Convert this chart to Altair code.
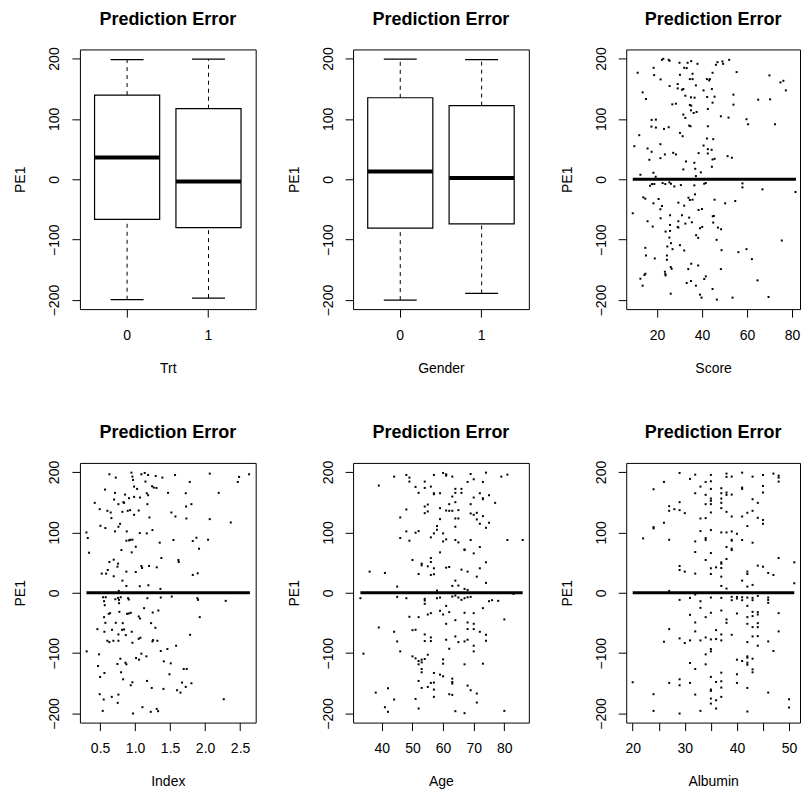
import altair as alt
import pandas as pd

FONT = "Liberation Sans"
TITLE = "Prediction Error"

# ---- boxplot summaries (lower whisker, Q1, median, Q3, upper whisker) ----
box_groups = ["0", "1"]
trt_stats = {"lo": [-199.4, -196.7], "q1": [-66.3, -80.0], "med": [36.0, -3.5],
             "q3": [139.5, 116.9], "hi": [198.3, 198.9]}
gender_stats = {"lo": [-200.0, -189.0], "q1": [-81.0, -74.0], "med": [13.0, 2.0],
                "q3": [135.0, 122.0], "hi": [199.0, 198.0]}

# ---- scatter data (x value, PE1) ----
score_pts = [
(22.2,197.8),(22.8,199.5),(25.2,197.8),(25.6,196.2),(30.0,192.9),(33.6,192.9),(35.2,195.6),(38.0,191.2),(46.9,194.0),(46.2,189.6),(49.1,195.1),(49.4,191.2),(52.1,197.8),
(18.5,184.6),(11.4,176.4),(32.1,184.6),(33.2,184.1),(30.2,173.0),(35.8,174.7),(44.7,176.4),(55.4,177.5),(70.0,172.0),(18.7,172.5),
(21.6,165.4),(34.6,165.9),(35.8,165.9),(42.2,165.9),(43.2,163.7),(43.5,165.9),(74.9,160.4),(76.2,163.1),(29.2,157.7),(25.6,154.4),(37.3,155.5),
(29.2,150.5),(31.1,148.3),(31.7,149.4),(40.7,147.2),(44.4,149.4),(77.3,147.2),(13.6,143.9),(32.6,138.4),(35.1,135.7),(36.7,135.1),(42.3,136.2),(45.6,136.8),(54.0,140.1),(15.1,132.9),(65.0,131.8),(70.3,132.4),
(26.8,124.1),(28.4,125.2),(34.6,123.0),(35.2,121.9),(44.7,126.9),(54.0,123.6),(42.6,116.4),(35.1,114.2),(36.3,109.8),(37.6,111.5),
(48.4,104.3),(51.8,102.1),(59.8,99.4),(32.6,101.6),(31.7,107.1),(17.6,98.3),(19.5,98.8),(60.5,91.1),(72.5,91.1),(17.5,87.3),(19.5,85.6),(23.1,83.4),(25.2,86.2),(34.3,88.9),(34.9,87.8),(42.6,87.8),
(30.2,76.8),(31.4,71.3),(12.1,73.0),(42.2,67.5),(45.0,66.4),(21.5,58.1),(9.9,54.8),(40.7,55.9),(44.3,48.8),(42.6,49.9),(15.8,51.0),(17.6,45.5),
(27.2,43.8),(28.4,41.1),(23.5,41.1),(38.5,43.3),(42.6,42.7),(21.5,35.0),(16.6,32.3),(44.7,32.8),(45.6,33.9),(51.4,38.3),(53.3,35.6),(32.9,29.5),(36.6,27.3),(44.4,20.7),
(31.7,16.3),(37.0,17.4),(39.5,11.4),(18.4,10.8),(12.6,7.5),(19.4,4.2),(37.3,5.3),
(16.9,-10.7),(17.8,-7.9),(18.8,-7.9),(22.5,-6.3),(23.7,-7.9),(25.5,-5.2),(26.2,-7.4),(27.7,-11.8),(30.6,-9.6),(36.6,-10.1),(41.0,-7.4),(41.7,-6.3),(58.0,-6.8),(58.0,-13.4),(66.9,-16.7),(81.6,-21.1),
(36.9,-25.0),(13.9,-29.9),(14.8,-32.1),(20.7,-32.7),(34.0,-30.5),(34.6,-34.3),(35.8,-33.8),(18.4,-39.8),(29.5,-38.7),(32.1,-43.7),(45.6,-33.8),(50.3,-39.8),(54.8,-36.0),(9.2,-56.3),(21.5,-49.7),(22.2,-44.2),(38.5,-50.8),(40.0,-49.2),
(25.8,-59.6),(31.1,-59.6),(34.3,-63.5),(21.6,-64.6),(15.8,-69.5),(29.5,-69.5),(32.6,-73.4),(35.5,-71.2),(44.8,-61.3),(45.3,-60.7),(45.0,-71.7),(25.8,-75.6),(29.2,-78.9),(29.5,-80.0),(18.1,-78.3),(39.1,-81.1),(40.1,-78.9),(47.1,-80.0),(48.5,-82.7),
(23.8,-86.6),(25.8,-85.5),(37.4,-92.6),(38.3,-97.0),(25.5,-96.5),(26.2,-105.8),(24.6,-111.3),(26.9,-115.7),(30.2,-109.1),(32.1,-117.9),(46.5,-100.3),(48.7,-117.4),(75.5,-101.4),(14.8,-113.5),(59.8,-115.7),(56.2,-120.7),
(15.1,-126.2),(19.0,-131.1),(24.4,-126.2),(24.4,-133.3),(35.2,-139.9),(38.3,-142.7),(33.9,-148.7),(26.1,-145.4),(26.5,-148.2),(23.5,-153.1),(23.7,-157.0),(23.8,-159.2),(14.8,-156.4),(14.4,-158.6),(12.6,-164.6),(48.4,-148.7),(62.2,-132.2),(64.7,-167.4),(41.7,-160.8),(41.0,-165.2),
(33.2,-171.8),(35.1,-168.5),(13.6,-176.2),(37.3,-176.2),(44.7,-181.7),(26.1,-189.4),(39.1,-191.1),(39.8,-196.0),(46.6,-199.3),(53.6,-196.0),(69.6,-194.9),
]

index_pts = [
(0.633,196.2),(0.724,190.7),(0.948,198.9),(0.962,192.3),(1.090,196.2),(1.138,198.4),(1.186,195.1),(1.295,193.4),(1.390,190.7),(1.571,195.1),(2.067,197.3),(2.486,191.8),(2.467,183.5),(2.629,196.2),(1.781,183.5),(1.148,184.1),(0.971,186.8),
(0.571,170.9),(0.986,175.8),(1.029,172.0),(1.243,176.4),(1.267,174.2),(1.305,173.6),(0.714,165.4),(0.857,162.6),(0.986,158.8),(1.167,164.8),(1.186,161.5),(1.471,165.4),(1.724,164.8),(2.195,165.4),(0.914,156.6),(0.700,154.4),(0.833,150.0),(0.843,148.9),(0.762,146.7),(0.424,148.9),(1.071,157.7),
(1.176,146.7),(1.729,142.8),(1.805,146.7),(0.495,138.4),(0.605,135.7),(0.652,132.9),(0.819,134.0),(0.895,135.7),(0.929,136.8),(1.052,136.2),(0.986,129.1),(0.662,123.6),(1.205,124.7),(1.519,132.9),(1.576,126.3),(1.733,123.0),(2.067,121.9),(2.367,116.4),
(0.505,110.9),(0.576,107.1),(0.786,114.2),(0.762,109.3),(0.714,101.6),(0.881,101.6),(1.067,98.8),(1.167,98.3),(1.248,103.8),(0.305,99.9),(0.324,90.6),(1.352,82.9),(0.876,86.2),(0.914,86.7),(0.933,87.8),(0.962,87.8),(1.548,87.3),(1.824,85.6),(1.876,91.1),(2.043,87.8),
(1.010,76.2),(0.952,66.9),(0.805,70.7),(0.343,66.3),(1.914,72.9),(1.376,57.5),(1.619,54.2),(1.624,50.9),(0.633,50.9),(0.695,54.8),
(0.757,48.2),(0.748,43.2),(1.090,44.3),(1.100,41.0),(1.200,44.3),(1.310,42.1),(0.610,37.7),(0.586,31.7),(0.524,31.7),(0.695,27.3),(0.876,35.0),(1.010,34.4),(1.824,29.5),(1.895,32.2),(0.819,20.1),(1.190,12.4),(1.067,10.8),(0.876,11.3),(1.362,6.4),(0.767,3.1),
(0.543,-7.4),(0.581,-7.4),(0.557,-14.0),(0.567,-20.6),(0.719,-10.7),(0.757,-8.5),(0.795,-7.4),(0.771,-11.8),(0.900,-9.0),(0.910,-11.2),(0.771,-17.3),(1.176,-9.0),(1.367,-7.9),(1.524,-6.3),(1.890,-9.0),(1.900,-11.8),(2.295,-13.4),
(0.624,-34.9),(0.643,-33.8),(0.776,-31.6),(0.886,-34.9),(0.910,-34.3),(0.938,-33.2),(1.129,-25.5),(1.333,-29.4),(1.252,-32.7),(0.557,-40.4),(1.052,-39.3),(1.071,-42.6),(1.924,-40.4),
(0.576,-49.8),(0.724,-49.8),(0.824,-50.3),(0.462,-60.2),(0.562,-64.6),(0.671,-61.3),(0.762,-69.0),(0.814,-61.3),(0.843,-60.8),(0.867,-70.1),(0.952,-64.6),(1.290,-58.0),(1.229,-50.3),(0.605,-79.5),(0.633,-81.7),(0.690,-79.5),(0.762,-79.5),(0.962,-82.8),(1.052,-76.2),(1.076,-74.5),(1.248,-80.6),(1.257,-78.4),(1.319,-79.5),(1.786,-69.6),(1.586,-87.7),
(0.309,-97.1),(0.486,-102.0),(1.367,-96.5),(1.462,-93.2),(1.090,-100.9),(1.162,-105.3),(1.014,-108.1),(1.057,-110.8),(0.790,-109.2),(0.748,-118.0),(0.862,-115.8),(0.876,-118.5),(0.471,-121.3),(1.410,-113.6),(1.510,-116.9),(1.491,-135.0),
(0.562,-132.8),(0.800,-131.7),(0.500,-139.4),(0.829,-143.3),(0.962,-148.2),(0.938,-153.2),(1.171,-146.0),(1.238,-157.6),(1.405,-159.2),(1.671,-148.8),(1.695,-126.2),(1.738,-126.2),(1.805,-149.9),(1.724,-155.9),(1.600,-161.4),(1.648,-165.3),
(0.495,-168.0),(0.552,-176.8),(0.667,-172.4),(0.762,-168.6),(0.752,-182.3),(2.267,-176.3),(0.538,-195.6),(0.971,-200.0),(1.105,-189.5),(1.224,-197.2),(1.310,-192.3),(1.329,-196.1),
]

age_pts = [
(44,192.3),(48,195.1),(49,190.7),(49,184.1),(54,184.1),(57,195.1),(60,198.4),(61,196.2),(61,194.0),(63,192.3),(69,196.7),(70,187.9),(68,183.5),(73,183.5),(74,198.9),(79,192.3),(81,195.6),
(39,177.5),(51,175.3),(54,173.6),(56,175.8),(52,165.4),(57,164.8),(57,163.2),(59,164.8),(64,172.0),(64,165.4),(66,172.0),(66,165.4),(72,164.8),(63,159.3),(62,146.7),(64,150.0),(70,157.7),(73,156.6),(73,154.9),(75,161.5),(77,148.9),(69,146.7),(54,142.8),(55,146.1),
(48,137.9),(54,131.8),(55,134.6),(59,140.1),(61,136.2),(62,135.7),(63,135.7),(65,136.8),(69,131.3),(70,129.1),(71,132.4),(73,126.9),(46,124.7),(59,121.9),(64,123.0),(65,123.0),(71,121.4),(72,114.2),(75,115.9),(74,107.6),(64,109.3),(58,110.4),(58,104.3),
(48,101.6),(51,99.4),(52,102.1),(57,98.3),(60,98.3),(56,91.7),(46,90.6),(49,86.2),(60,85.0),(61,88.4),(64,87.3),(65,83.4),(69,87.3),(81,87.3),(86,87.3),(72,75.7),(67,71.8),(67,70.7),
(59,66.9),(70,65.2),(50,54.2),(56,57.5),(56,50.9),(53,48.2),(53,45.4),(55,43.8),(57,40.5),(61,41.6),(62,42.7),(66,38.3),(68,35.0),(72,40.5),(74,50.4),(36,35.0),(41,32.8),(52,31.1),(56,29.5),(57,30.6),(71,26.7),
(64,20.1),(63,11.3),(65,11.9),(74,16.3),(45,10.2),(67,6.4),(68,4.7),(58,3.6),
(33,-9.0),(45,-6.8),(48,-9.0),(54,-10.1),(54,-12.9),(54,-18.4),(58,-9.0),(59,-7.9),(63,-6.3),(64,-4.6),(65,-7.9),(66,-11.8),(67,-9.0),(68,-7.4),(69,-6.8),(75,-14.0),(76,-12.3),(78,-13.4),(83,-1.9),
(61,-21.7),(59,-29.9),(56,-33.8),(55,-36.0),(60,-36.0),(62,-32.1),(49,-39.8),(52,-40.4),(67,-33.2),(70,-33.8),(73,-25.5),(80,-44.2),(61,-51.4),(64,-45.4),(68,-49.2),(70,-51.4),
(39,-57.5),(44,-64.6),(50,-61.9),(51,-61.3),(54,-69.0),(56,-74.0),(56,-80.0),(54,-80.0),(64,-72.3),(65,-81.7),(67,-80.6),(68,-77.8),(68,-60.2),(70,-60.2),(72,-64.6),(74,-69.6),(74,-79.5),(45,-80.6),(61,-77.8),(62,-92.7),(70,-87.7),
(46,-97.1),(55,-102.6),(50,-105.3),(51,-108.6),(52,-113.0),(53,-110.8),(53,-115.2),(54,-109.7),(52,-118.5),(53,-126.2),(53,-131.7),(60,-110.3),(60,-117.4),(67,-118.5),(73,-117.4),(34,-100.9),(70,-97.1),
(57,-132.8),(59,-135.6),(60,-138.3),(63,-142.2),(63,-147.7),(63,-150.4),(52,-146.0),(56,-149.3),(57,-148.8),(55,-155.9),(53,-157.6),(57,-160.3),(42,-158.1),(38,-165.3),(68,-153.7),(69,-161.4),(71,-166.9),(62,-168.0),(63,-169.1),
(44,-176.8),(51,-175.8),(57,-172.4),(71,-181.8),(41,-189.5),(42,-197.2),(52,-191.7),(64,-196.1),(67,-199.4),(80,-195.6),
]

albumin_pts = [
(29,198.4),(31,188.5),(32,195.6),(34,183.5),(35,195.1),(35,184.6),(38,197.3),(38,191.8),(39,192.3),(41,198.9),(43,192.3),(45,195.1),(47,197.3),(48,194.0),(48,190.7),(48,184.1),(26,183.5),
(24,171.4),(32,164.8),(33,175.8),(34,162.1),(35,172.0),(37,173.1),(37,164.8),(38,165.9),(38,162.1),(39,162.6),(41,174.2),(41,172.0),(43,154.9),(45,176.9),(45,165.9),
(35,156.0),(35,152.2),(37,156.0),(37,148.9),(34,146.7),(35,146.7),(37,140.1),(27,143.4),(27,135.7),(28,138.4),(29,150.0),(29,136.8),(30,131.8),(35,132.9),(38,134.0),(39,126.3),(41,126.3),(42,132.4),(43,135.7),(44,148.9),(44,124.1),(45,120.3),(45,114.2),(33,123.0),(34,123.6),
(26,115.9),(24,108.7),(24,106.5),(42,110.4),(33,102.1),(35,103.8),(37,99.9),(38,99.9),(39,101.6),(40,97.7),(34,90.6),(34,87.3),(32,85.0),(27,87.8),(22,90.0),(39,87.8),(39,86.2),(41,87.3),(43,82.9),
(38,75.7),(39,72.9),(39,70.7),(32,67.4),(35,65.8),(38,55.9),(37,50.4),(37,48.2),(34,54.2),(48,57.5),(51,50.4),
(29,44.3),(29,37.7),(30,35.0),(32,31.7),(35,40.5),(35,31.1),(36,42.1),(37,41.0),(44,44.9),(45,43.2),(46,32.8),(47,29.5),(42,35.0),(42,31.1),(37,26.7),(41,20.1),(43,13.0),(42,10.2),(37,11.3),(38,6.9),(51,15.7),(27,3.1),
(32,-3.0),(29,-11.8),(31,-8.5),(33,-14.0),(35,-7.9),(37,-8.5),(39,-6.8),(39,-12.3),(40,-6.8),(40,-9.6),(41,-7.4),(41,-12.3),(42,-7.9),(43,-8.5),(43,-12.3),(44,-5.2),(46,-7.9),(46,-11.8),(46,-16.7),
(33,-25.0),(37,-29.4),(42,-21.7),(31,-36.5),(32,-49.2),(34,-40.4),(35,-33.2),(38,-44.2),(38,-49.8),(40,-34.3),(42,-40.4),(42,-51.4),(43,-31.6),(43,-38.7),(44,-32.1),(44,-36.0),(48,-33.8),
(27,-60.2),(32,-64.0),(36,-61.9),(37,-69.0),(39,-69.6),(43,-56.9),(44,-50.3),(44,-56.9),(43,-72.3),(44,-71.8),(48,-64.0),(26,-81.1),(29,-75.6),(30,-83.3),(31,-78.9),(33,-78.9),(34,-74.0),(35,-77.3),(36,-76.7),(37,-78.9),(42,-81.7),(44,-87.7),(46,-80.6),
(35,-93.2),(35,-97.1),(34,-102.0),(34,-118.5),(31,-116.3),(32,-126.2),(35,-139.4),(37,-132.3),(40,-110.8),(41,-113.0),(42,-105.3),(42,-107.5),(42,-115.8),(42,-119.1),(43,-109.2),(43,-126.8),(43,-131.7),(47,-96.5),(40,-135.0),
(20,-148.2),(27,-149.3),(29,-143.3),(29,-153.2),(31,-149.3),(35,-160.3),(35,-162.5),(36,-147.7),(37,-146.6),(37,-157.0),(40,-149.3),(42,-157.6),(46,-165.3),(24,-168.0),(32,-168.6),(37,-172.4),
(35,-175.2),(35,-183.5),(36,-178.0),(36,-191.7),(50,-176.3),(50,-190.1),(24,-195.6),(29,-200.0),(33,-195.6),(42,-196.7),
]

# extent of the observations with PE1 == 0 (drawn as the dense line at zero)
score_zero = (9.2, 81.8)
index_zero = (0.305, 2.64)
age_zero = (33, 86)
albumin_zero = (20, 51)

# ---------------------------------------------------------------------------
Y_SCALE = alt.Scale(domain=[-215, 215], nice=False, zero=False)
TITLE_P = alt.TitleParams(text=TITLE, fontSize=18, fontWeight="bold", font=FONT,
                          color="black", anchor="middle", frame="group",
                          offset=4, baseline="alphabetic")
PW, PH = 176, 260
PW3 = 174


def y_axis():
    return alt.Axis(values=[-200, -100, 0, 100, 200], title="PE1",
                    labelAngle=270, labelAlign="center", labelBaseline="middle",
                    labelPadding=17, titleAngle=270, titleX=-59, titleY=PH / 2,
                    titleAlign="center", titleBaseline="middle")


def x_axis(title, values=None, fmt=None, label_expr=None):
    kw = dict(title=title, labelAngle=0, labelBaseline="middle", labelPadding=18,
              titleY=59, titleBaseline="middle")
    if values is not None:
        kw["values"] = values
    if fmt is not None:
        kw["format"] = fmt
    if label_expr is not None:
        kw["labelExpr"] = label_expr
    return alt.Axis(**kw)


def boxplot(stats, xtitle):
    df = pd.DataFrame({"g": box_groups, **stats})
    X = alt.X("g:N", sort=box_groups,
              scale=alt.Scale(paddingInner=0.2, paddingOuter=0.18),
              axis=x_axis(xtitle))

    def Y(f):
        return alt.Y(f, type="quantitative", scale=Y_SCALE, axis=y_axis())

    base = alt.Chart(df)
    wh = base.mark_rule(color="black", strokeWidth=1, strokeDash=[4, 4]).encode(
        x=X, y=Y("q3"), y2="hi")
    wl = base.mark_rule(color="black", strokeWidth=1, strokeDash=[4, 4]).encode(
        x=X, y=Y("lo"), y2="q1")
    box = base.mark_bar(fill="white", stroke="black", strokeWidth=1.2, opacity=1).encode(
        x=X, y=Y("q1"), y2="q3")
    ch = base.mark_tick(color="black", size=33, thickness=1.2, opacity=1).encode(x=X, y=Y("hi"))
    cl = base.mark_tick(color="black", size=33, thickness=1.2, opacity=1).encode(x=X, y=Y("lo"))
    md = base.mark_tick(color="black", size=65, thickness=4, opacity=1).encode(x=X, y=Y("med"))
    return alt.layer(wh, wl, box, ch, cl, md).properties(width=PW, height=PH, title=TITLE_P)


def scatter(pts, zero_span, xtitle, domain, ticks, width, fmt=None, label_expr=None):
    df = pd.DataFrame(pts, columns=["x", "pe"])
    zdf = pd.DataFrame({"x": [zero_span[0]], "x2": [zero_span[1]], "pe": [0.0]})
    xs = alt.Scale(domain=domain, nice=False, zero=False)
    X = alt.X("x:Q", scale=xs, axis=x_axis(xtitle, ticks, fmt, label_expr))
    Y = alt.Y("pe:Q", scale=Y_SCALE, axis=y_axis())
    p = alt.Chart(df).mark_square(size=4, color="black", opacity=1).encode(x=X, y=Y)
    z = alt.Chart(zdf).mark_rule(color="black", strokeWidth=3).encode(x=X, x2="x2", y=Y)
    return alt.layer(z, p).properties(width=width, height=PH, title=TITLE_P)


p1 = boxplot(trt_stats, "Trt")
p2 = boxplot(gender_stats, "Gender")
p3 = scatter(score_pts, score_zero, "Score", [6.3, 83.6], [20, 40, 60, 80], PW3)
p4 = scatter(index_pts, index_zero, "Index", [0.212, 2.723], [0.5, 1.0, 1.5, 2.0, 2.5], PW, fmt=".1f")
p5 = scatter(age_pts, age_zero, "Age", [30.6, 88.0], [40, 50, 60, 70, 80], PW)
p6 = scatter(albumin_pts, albumin_zero, "Albumin", [18.76, 52.1], [20, 25, 30, 35, 40, 45, 50], PW3,
             label_expr="datum.value % 10 == 0 ? datum.label : ''")

chart = alt.concat(p1, p2, p3, p4, p5, p6, columns=3,
                   spacing={"row": 154, "column": 97.5}, bounds="flush").properties(
    padding={"left": 5, "top": 1, "right": 0, "bottom": 0},
    background="white"
).configure_view(stroke="black", strokeWidth=1).configure_axis(
    domain=False, grid=False, ticks=True, tickColor="black", tickSize=8, tickWidth=1,
    labelFont=FONT, labelFontSize=14, labelColor="black", labelFlush=False,
    titleFont=FONT, titleFontSize=14, titleColor="black", titleFontWeight="normal"
)

chart.save("out.html", embed_options={"renderer": "svg", "actions": False})
